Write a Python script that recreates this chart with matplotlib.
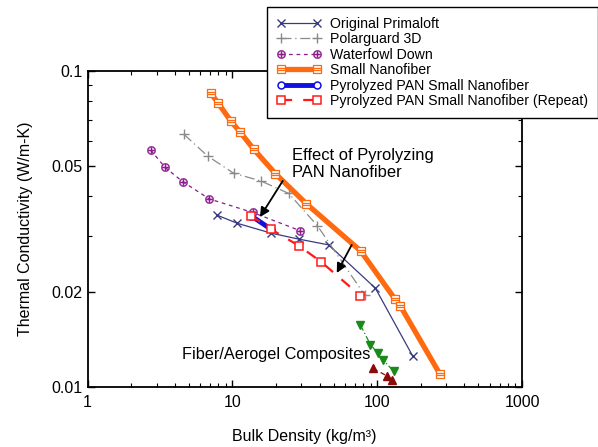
import matplotlib
matplotlib.use("Agg")
import matplotlib.pyplot as plt
from matplotlib.path import Path
from matplotlib.ticker import LogLocator, NullFormatter, FixedFormatter, FixedLocator

plt.rcParams['font.family'] = ['Liberation Sans', 'DejaVu Sans']

# Data (bulk density kg/m3, thermal conductivity W/m-K)
primaloft_x = [7.85, 10.8, 18.6, 28.9, 46.3, 97.2, 176]
primaloft_y = [0.0349, 0.0329, 0.0306, 0.0293, 0.0281, 0.0205, 0.0125]

polarguard_x = [4.63, 6.75, 10.2, 15.7, 24.5, 38.7, 82]
polarguard_y = [0.0629, 0.0537, 0.0474, 0.0448, 0.0409, 0.0323, 0.0195]

down_x = [2.73, 3.42, 4.53, 6.92, 13.8, 29.2]
down_y = [0.0561, 0.0495, 0.0446, 0.0393, 0.0356, 0.0312]

nano_x = [7.11, 7.98, 9.72, 11.27, 14.07, 19.86, 32.5, 76.9, 132, 144.6, 270]
nano_y = [0.0848, 0.079, 0.0695, 0.0641, 0.0564, 0.0472, 0.0379, 0.0269, 0.019, 0.018, 0.0110]

pyro_x = [13.4, 18.5]
pyro_y = [0.0348, 0.0315]

repeat_x = [13.4, 18.5, 28.9, 41.2, 76.6]
repeat_y = [0.0348, 0.0315, 0.0279, 0.0248, 0.0194]

aero1_x = [76.6, 89.8, 101, 109.7, 130]
aero1_y = [0.01567, 0.0136, 0.01276, 0.01214, 0.01121]

aero2_x = [93.5, 117.6, 126.5]
aero2_y = [0.01143, 0.0108, 0.01050]

labels = ["Original Primaloft", "Polarguard 3D", "Waterfowl Down", "Small Nanofiber",
          "Pyrolyzed PAN Small Nanofiber", "Pyrolyzed PAN Small Nanofiber (Repeat)"]
xticks = [1, 10, 100, 1000]
xticklabels = ["1", "10", "100", "1000"]
yticks = [0.01, 0.02, 0.05, 0.1]
yticklabels = ["0.01", "0.02", "0.05", "0.1"]

# striped-square marker
sq_verts = [(-1, -1), (1, -1), (1, 1), (-1, 1), (-1, -1),
            (-1, -0.33), (1, -0.33), (-1, 0.33), (1, 0.33)]
sq_codes = [Path.MOVETO, Path.LINETO, Path.LINETO, Path.LINETO, Path.CLOSEPOLY,
            Path.MOVETO, Path.LINETO, Path.MOVETO, Path.LINETO]
striped_sq = Path(sq_verts, sq_codes)

fig = plt.figure(figsize=(5.98, 4.47), dpi=100)
ax = fig.add_axes([87.5/598, 1-386.7/447, (522-87.5)/598, (386.7-70.7)/447])
ax.set_xscale('log')
ax.set_yscale('log')
ax.set_xlim(1, 1000)
ax.set_ylim(0.01, 0.1)

h1, = ax.plot(primaloft_x, primaloft_y, color='#3a3a80', lw=0.9, marker='x', ms=5.5, mew=1.0,
              label=labels[0])
h2, = ax.plot(polarguard_x, polarguard_y, color='#8a8a8a', lw=0.9, ls=(0, (8, 3, 1, 3)),
              marker='+', ms=6.5, mew=1.0, label=labels[1])
h3, = ax.plot(down_x, down_y, color='#8b1a8b', lw=0.9, ls=(0, (3, 3)), marker='$\\oplus$',
              ms=6, mew=0.3, label=labels[2])
h4, = ax.plot(nano_x, nano_y, color='#ff6a10', lw=3.8, marker=striped_sq, ms=6,
              mew=0.9, mec='#ff6a10', mfc='white', label=labels[3])
h5, = ax.plot(pyro_x, pyro_y, color='#1010e0', lw=3.5, marker='o', ms=5, mfc='white',
              mec='#1010e0', mew=1.1, label=labels[4])
h6, = ax.plot(repeat_x, repeat_y, color='#ff1a1a', lw=1.6, ls=(0, (5, 5)), marker='s', ms=5.5,
              mfc='white', mec='#ff1a1a', mew=1.1, label=labels[5])
ax.plot(aero1_x, aero1_y, color='#1a8a1a', lw=0.9, ls=(0, (5, 2, 1, 2)), marker='v', ms=5.5,
        mfc='#1a8a1a', mec='#1a8a1a')
ax.plot(aero2_x, aero2_y, color='#8b0a0a', lw=0.9, ls=(0, (4, 3)), marker='^', ms=5.5,
        mfc='#8b0a0a', mec='#8b0a0a')

ax.annotate("", xy=(15.5, 0.0344), xytext=(22.3, 0.0448),
            arrowprops=dict(arrowstyle='-|>', color='black', lw=1.3, mutation_scale=14,
                            shrinkA=0, shrinkB=0))
ax.annotate("", xy=(52.6, 0.0229), xytext=(66.7, 0.0281),
            arrowprops=dict(arrowstyle='-|>', color='black', lw=1.3, mutation_scale=14,
                            shrinkA=0, shrinkB=0))
ax.text(292/598, 1-164/447, "Effect of Pyrolyzing\nPAN Nanofiber", transform=fig.transFigure,
        fontsize=11.9, ha='left', va='center', linespacing=1.15)
ax.text(182/598, 1-355/447, "Fiber/Aerogel Composites", transform=fig.transFigure,
        fontsize=11.7, ha='left', va='center')

ax.xaxis.set_major_locator(FixedLocator(xticks))
ax.xaxis.set_major_formatter(FixedFormatter(xticklabels))
ax.yaxis.set_major_locator(FixedLocator(yticks))
ax.yaxis.set_major_formatter(FixedFormatter(yticklabels))
ax.xaxis.set_minor_locator(LogLocator(base=10, subs=range(2, 10)))
ax.xaxis.set_minor_formatter(NullFormatter())
ax.yaxis.set_minor_locator(LogLocator(base=10, subs=range(2, 10)))
ax.yaxis.set_minor_formatter(NullFormatter())
ax.tick_params(which='both', direction='in', top=True, right=True, labelsize=11.5)
ax.tick_params(which='major', length=5, width=1)
ax.tick_params(which='minor', length=3, width=0.8)
ax.tick_params(axis='x', pad=6)
for s in ax.spines.values():
    s.set_linewidth(1.3)

ax.set_xlabel("Bulk Density (kg/m³)", fontsize=11.5, labelpad=14)
ax.set_ylabel("Thermal Conductivity (W/m-K)", fontsize=11.5, labelpad=13)

leg = fig.legend(handles=[h1, h2, h3, h4, h5, h6], loc='upper left',
                 bbox_to_anchor=(267/598, 1-7/447), borderaxespad=0, fontsize=10.2,
                 frameon=True, fancybox=False, edgecolor='black', handlelength=3.15,
                 handletextpad=0.6, labelspacing=0.1, borderpad=0.7, numpoints=2,
                 framealpha=1)
leg.get_frame().set_linewidth(1.0)

fig.savefig("out.png", dpi=100)
